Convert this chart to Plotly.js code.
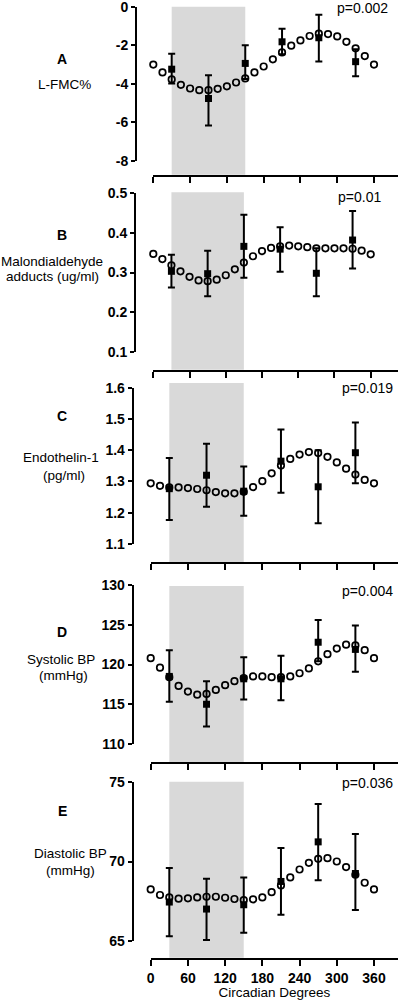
<!DOCTYPE html>
<html><head><meta charset="utf-8">
<script src="https://cdn.plot.ly/plotly-3.0.1.min.js"></script>
<style>html,body{margin:0;padding:0;background:#fff}#chart{width:400px;height:1002px}</style>
</head><body><div id="chart"></div>
<script>
// ---------- DATA ----------
const circleDeg = [0,15,30,45,60,75,90,105,120,135,150,165,180,195,210,225,240,255,270,285,300,315,330,345,360];
const squareDeg = [30,90,150,210,270,330];
const shadeDeg = [30,150];
const xTicks = [0,60,120,180,240,300,360];
const xTickText = ['0','60','120','180','240','300','360'];
const xTitle = 'Circadian Degrees';

const letters = ['A','B','C','D','E'];
const names = [['L-FMC%'],['Malondialdehyde','adducts (ug/ml)'],['Endothelin-1','(pg/ml)'],['Systolic BP','(mmHg)'],['Diastolic BP','(mmHg)']];
const pValues = ['p=0.002','p=0.01','p=0.019','p=0.004','p=0.036'];

// A: L-FMC%
const fitA = [-3.0,-3.41,-3.77,-4.05,-4.24,-4.33,-4.33,-4.26,-4.13,-3.93,-3.72,-3.41,-3.10,-2.73,-2.37,-2.02,-1.75,-1.52,-1.40,-1.42,-1.54,-1.82,-2.16,-2.56,-3.0];
const meanA = [-3.24,-4.76,-2.94,-1.82,-1.61,-2.85];
const upA   = [-2.44,-3.55,-2.0,-1.14,-0.42,-2.21];
const loA   = [-3.98,-6.16,-3.75,-2.47,-2.84,-3.6];
const ticksA = [-8,-6,-4,-2,0];

// B: Malondialdehyde adducts
const fitB = [0.347,0.334,0.318,0.303,0.289,0.280,0.278,0.282,0.293,0.308,0.325,0.341,0.354,0.362,0.366,0.368,0.366,0.364,0.361,0.361,0.361,0.361,0.360,0.355,0.346];
const meanB = [0.303,0.297,0.366,0.359,0.298,0.382];
const upB   = [0.345,0.355,0.446,0.414,0.361,0.455];
const loB   = [0.262,0.240,0.287,0.302,0.240,0.310];
const ticksB = [0.1,0.2,0.3,0.4,0.5];

// C: Endothelin-1
const fitC = [1.294,1.286,1.281,1.281,1.279,1.276,1.272,1.266,1.262,1.262,1.267,1.282,1.301,1.326,1.351,1.372,1.386,1.394,1.391,1.379,1.361,1.341,1.322,1.305,1.294];
const meanC = [1.277,1.320,1.269,1.365,1.283,1.392];
const upC   = [1.375,1.421,1.348,1.466,1.400,1.489];
const loC   = [1.177,1.219,1.190,1.264,1.166,1.294];
const ticksC = [1.1,1.2,1.3,1.4,1.5,1.6];

// D: Systolic BP
const fitD = [120.8,119.6,118.4,117.3,116.6,116.2,116.3,116.8,117.4,117.9,118.3,118.5,118.5,118.4,118.4,118.5,118.9,119.5,120.4,121.3,122.0,122.5,122.4,121.8,120.8];
const meanD = [118.5,115.0,118.2,118.2,122.8,121.9];
const upD   = [121.8,117.9,120.9,121.1,125.6,124.9];
const loD   = [115.3,112.2,115.6,115.5,120.4,119.1];
const ticksD = [110,115,120,125,130];

// E: Diastolic BP
const fitE = [68.25,67.9,67.75,67.67,67.69,67.75,67.79,67.79,67.73,67.65,67.58,67.63,67.75,68.08,68.5,69.0,69.5,69.92,70.17,70.21,70.0,69.65,69.17,68.67,68.25];
const meanE = [67.46,67.02,67.29,68.75,71.23,69.25];
const upE   = [69.6,68.92,69.0,70.85,73.6,71.73];
const loE   = [65.31,65.08,65.54,66.67,68.83,66.96];
const ticksE = [65,70,75];

// ---------- LAYOUT (pixel geometry) ----------
const W = 400, H = 1002;
const FONT = 'Liberation Sans, Arial, sans-serif';
const geom = [
  {yTop:6.7,   yBot:161,   yAxX:136,   xAxY:175.7, x0:153.3, x360:374,   grayTop:6.7,   letY:59,  nameX:[64],    nameY:[84],        pX:390, pY:8},
  {yTop:193.3, yBot:351.7, yAxX:135,   xAxY:370.7, x0:153.3, x360:370.7, grayTop:192.3, letY:235, nameX:[52,52], nameY:[261,276.5], pX:383, pY:197},
  {yTop:387.7, yBot:544,   yAxX:132.7, xAxY:563,   x0:150.7, x360:374,   grayTop:383,   letY:416, nameX:[61,64], nameY:[457.3,475], pX:395, pY:388},
  {yTop:585,   yBot:744,   yAxX:132.7, xAxY:763,   x0:150.7, x360:374,   grayTop:586,   letY:632, nameX:[61,63], nameY:[659,675],   pX:395, pY:590.7},
  {yTop:781.7, yBot:941.3, yAxX:132.7, xAxY:958.7, x0:150.7, x360:374,   grayTop:781.7, letY:810.7,nameX:[70,70],nameY:[853.3,870.7], pX:395, pY:782.7}
];
const xEnd = 398;

const fits = [fitA,fitB,fitC,fitD,fitE];
const means = [meanA,meanB,meanC,meanD,meanE];
const ups = [upA,upB,upC,upD,upE];
const los = [loA,loB,loC,loD,loE];
const yTicks = [ticksA,ticksB,ticksC,ticksD,ticksE];

const px = v => v / W;
const py = v => 1 - v / H;

const data = [];
const layout = {
  width: W, height: H,
  margin: {l:0, r:0, t:0, b:0},
  paper_bgcolor: '#fff', plot_bgcolor: 'rgba(0,0,0,0)',
  showlegend: false,
  font: {family: FONT, color: '#000'},
  shapes: [], annotations: []
};

for (let i = 0; i < 5; i++) {
  const g = geom[i];
  const s = i === 0 ? '' : String(i + 1);
  const xr = 360 * (xEnd - g.x0) / (g.x360 - g.x0);
  const yt = yTicks[i];
  const span = yt[yt.length - 1] - yt[0];
  layout['xaxis' + s] = {
    domain: [px(g.x0), px(xEnd)], range: [0, xr],
    anchor: 'free', position: py(g.xAxY),
    showline: true, linewidth: 2, linecolor: '#000',
    ticks: 'outside', ticklen: 6, tickwidth: 2, tickcolor: '#000',
    tickmode: 'array', tickvals: xTicks, ticktext: xTickText,
    showticklabels: i === 4,
    tickfont: {family: FONT, size: 14, weight: 'bold', color: '#000'},
    showgrid: false, zeroline: false, fixedrange: true,
    title: i === 4 ? {text: xTitle, font: {family: FONT, size: 13.5, color: '#000'}, standoff: 2} : {text: ''}
  };
  layout['yaxis' + s] = {
    domain: [py(g.yBot), py(g.yTop)],
    range: [yt[0] - span * 1e-6, yt[yt.length - 1] + span * 1e-6],
    anchor: 'free', position: px(g.yAxX),
    showline: true, linewidth: 2, linecolor: '#000',
    ticks: 'outside', ticklen: 4, tickwidth: 2, tickcolor: '#000',
    tickmode: 'array', tickvals: yt, ticktext: yt.map(v => String(v)),
    ticklabeloverflow: 'allow',
    tickfont: {family: FONT, size: 14, weight: 'bold', color: '#000'},
    showgrid: false, zeroline: false, fixedrange: true
  };
  layout.shapes.push({
    type: 'rect', xref: 'x' + s, yref: 'paper', layer: 'below',
    x0: shadeDeg[0], x1: shadeDeg[1], y0: py(g.xAxY - 1), y1: py(g.grayTop),
    fillcolor: '#d9d9d9', line: {width: 0}
  });
  data.push({
    x: circleDeg, y: fits[i], xaxis: 'x' + s, yaxis: 'y' + s,
    mode: 'markers', cliponaxis: false, hoverinfo: 'skip',
    marker: {symbol: 'circle-open', size: 6.5, color: '#000', line: {width: 1.7, color: '#000'}}
  });
  data.push({
    x: squareDeg, y: means[i], xaxis: 'x' + s, yaxis: 'y' + s,
    mode: 'markers', cliponaxis: false, hoverinfo: 'skip',
    marker: {symbol: 'square', size: 7, color: '#000'},
    error_y: {type: 'data', symmetric: false,
      array: ups[i].map((u, k) => u - means[i][k]),
      arrayminus: los[i].map((l, k) => means[i][k] - l),
      color: '#000', thickness: 2, width: 3.5}
  });
  layout.annotations.push({
    text: letters[i], xref: 'paper', yref: 'paper', x: px(62), y: py(g.letY),
    xanchor: 'center', yanchor: 'middle', showarrow: false,
    font: {family: FONT, size: 14, weight: 'bold', color: '#000'}
  });
  names[i].forEach((t, k) => layout.annotations.push({
    text: t, xref: 'paper', yref: 'paper', x: px(g.nameX[k]), y: py(g.nameY[k]),
    xanchor: 'center', yanchor: 'middle', showarrow: false,
    font: {family: FONT, size: 13.5, color: '#000'}
  }));
  layout.annotations.push({
    text: pValues[i], xref: 'paper', yref: 'paper', x: px(g.pX), y: py(g.pY),
    xanchor: 'right', yanchor: 'middle', showarrow: false,
    font: {family: FONT, size: 14, color: '#000'}
  });
}

Plotly.newPlot('chart', data, layout, {displayModeBar: false, staticPlot: true});
</script>
</body></html>
